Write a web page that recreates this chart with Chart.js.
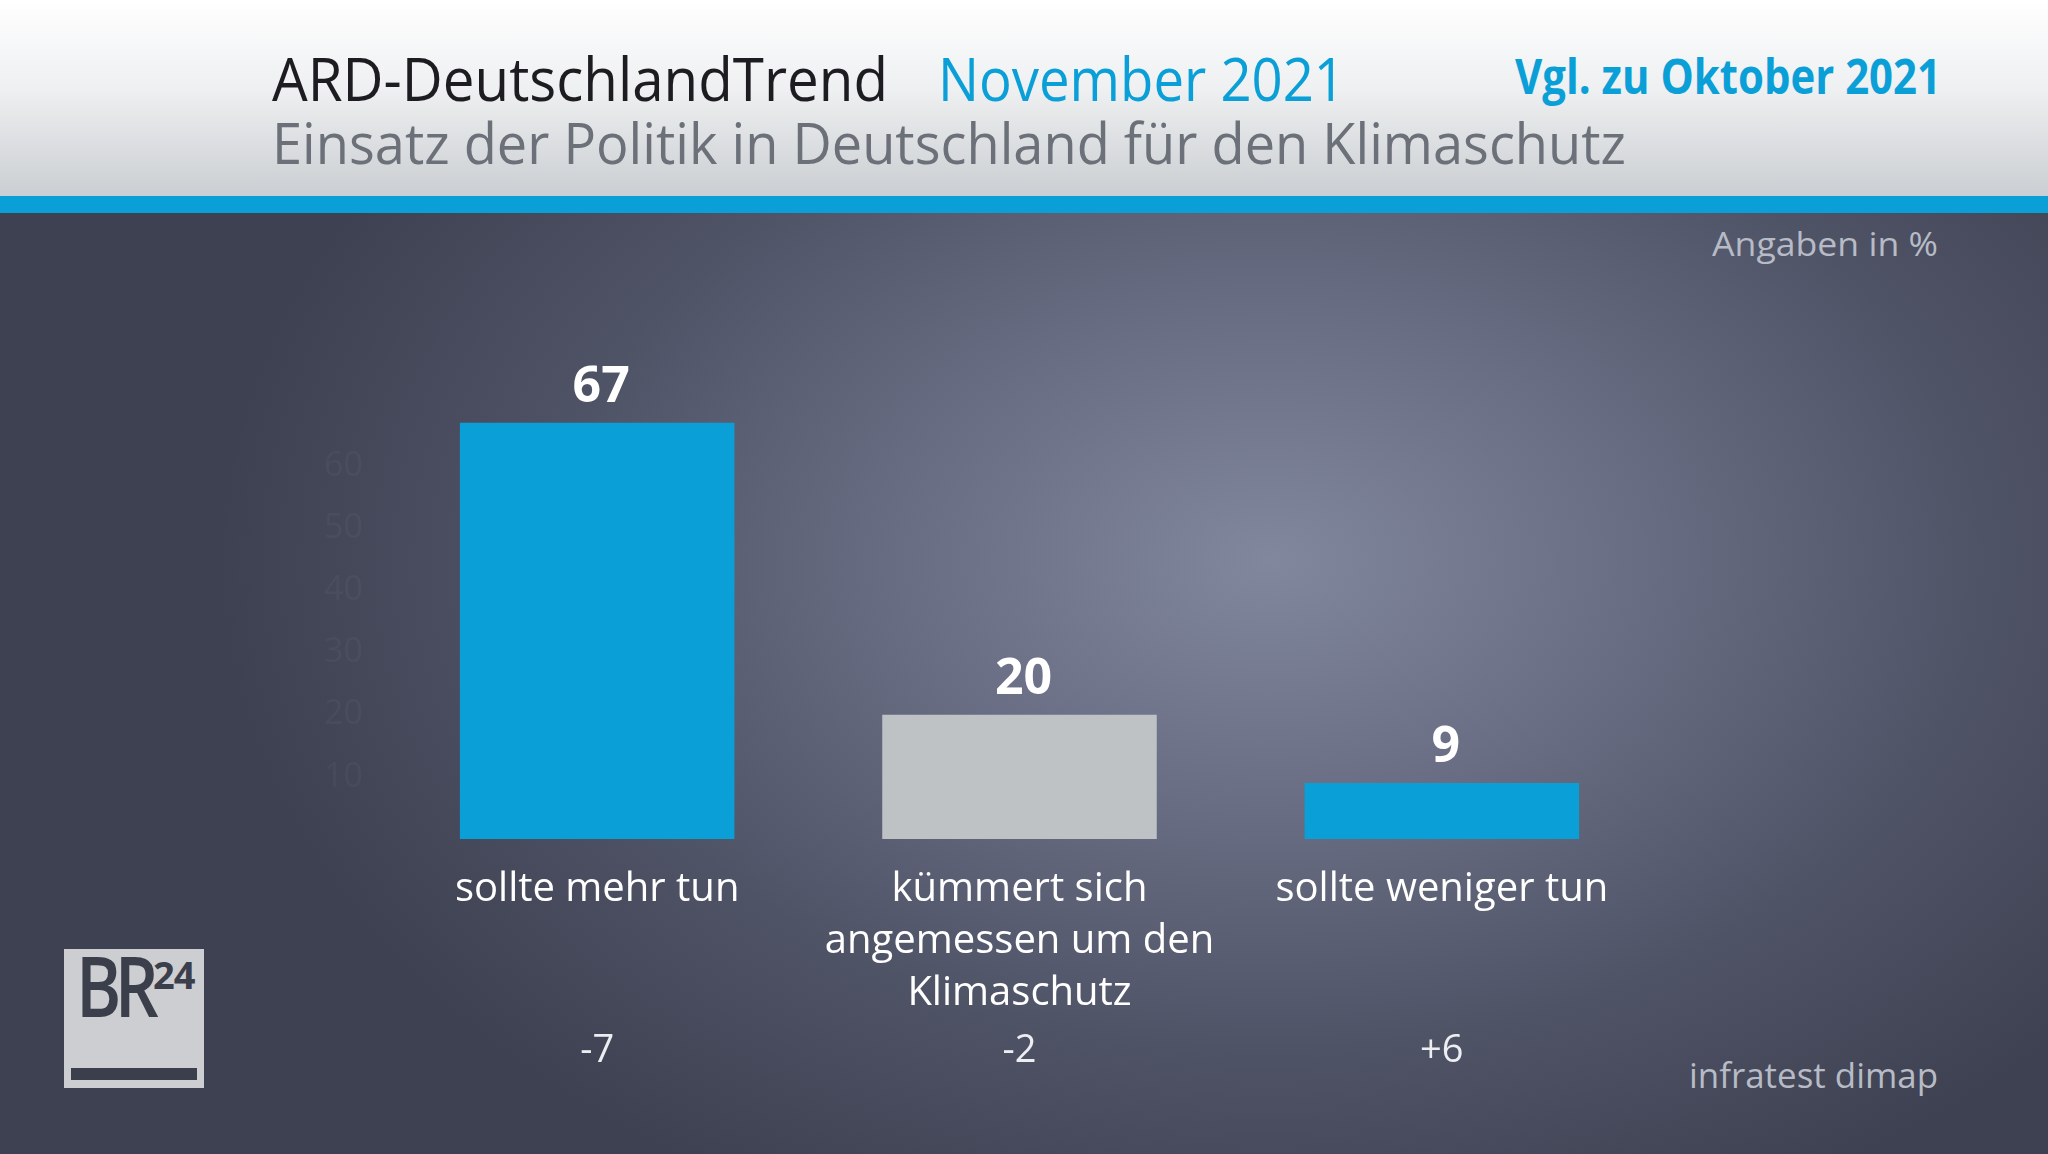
<!DOCTYPE html>
<html>
<head>
<meta charset="utf-8">
<script src="https://cdn.jsdelivr.net/npm/chart.js@4.4.1/dist/chart.umd.min.js"></script>
<style>
  html, body { margin: 0; padding: 0; }
  body {
    width: 2048px; height: 1154px; position: relative; overflow: hidden;
    font-family: "Open Sans", "Noto Sans", sans-serif;
    background: radial-gradient(ellipse 1050px 720px at 1270px 560px, #81879d 0%, #686d83 35%, #4f5366 68%, #3e4151 100%);
  }
  #head { position: absolute; left: 0; top: 0; width: 2048px; height: 196px;
    background: linear-gradient(#ffffff 0%, #eef0f1 45%, #cbced2 100%); }
  #band { position: absolute; left: 0; top: 196px; width: 2048px; height: 17px; background: #0b9fd8; }
  .t { position: absolute; white-space: nowrap; line-height: 1; transform-origin: 0 0; }
  #title { left: 272px; top: 48px; font-size: 60px; color: #1d1d21; }
  #month { left: 938px; top: 48px; font-size: 60px; color: #0b9fd8; }
  #cmp { left: 1515px; top: 52px; font-size: 48px; font-weight: 700; color: #0b9fd8; }
  #sub { left: 272px; top: 114px; font-size: 56px; color: #6c7079; }
  #unit { left: 1712px; top: 228px; font-size: 32px; color: #b7bbc6; }
  #src { left: 1689px; top: 1058px; font-size: 34px; color: #b7bbc6; }
  #chart { position: absolute; left: 0; top: 213px; }
  #logo { position: absolute; left: 64px; top: 949px; width: 140px; height: 139px; background: #cdced1; }
  #logo .br { position: absolute; left: 12px; top: -6px; font-size: 84px; font-weight: 600; color: #3b3e4b;
    letter-spacing: -8px; line-height: 1; transform: scaleX(0.82); transform-origin: 0 0; }
  #logo .n { position: absolute; left: 89px; top: 6px; font-size: 38px; font-weight: 700; color: #3b3e4b;
    line-height: 1; letter-spacing: -1px; }
  #logo .bar { position: absolute; left: 7px; top: 119px; width: 126px; height: 12px; background: #3b3e4b; }
</style>
</head>
<body>
<div id="head"></div>
<div id="band"></div>
<div class="t" id="title">ARD-DeutschlandTrend</div>
<div class="t" id="month">November 2021</div>
<div class="t" id="cmp">Vgl. zu Oktober 2021</div>
<div class="t" id="sub">Einsatz der Politik in Deutschland für den Klimaschutz</div>
<div class="t" id="unit">Angaben in %</div>
<div class="t" id="src">infratest dimap</div>
<div id="logo"><div class="br">BR</div><div class="n">24</div><div class="bar"></div></div>
<canvas id="chart" width="2048" height="941"></canvas>
<script>
"use strict";
const categories = [["sollte mehr tun"], ["kümmert sich", "angemessen um den", "Klimaschutz"], ["sollte weniger tun"]];
const values = [67, 20, 9];
const changes = ["-7", "-2", "+6"];
const barColors = ["#0b9fd8", "#bec2c5", "#0b9fd8"];
const yTicks = [10, 20, 30, 40, 50, 60];

// squeeze header texts to the widths of the condensed broadcast font
function fit(id, w) {
  const el = document.getElementById(id);
  el.style.transform = "scaleX(" + (w / el.getBoundingClientRect().width) + ")";
}
fit("title", 616); fit("month", 407); fit("cmp", 426); fit("sub", 1354);
fit("unit", 226); fit("src", 249);

// value above each bar + change vs. previous month below the labels
const labelsPlugin = {
  id: "barTexts",
  afterDatasetsDraw(chart) {
    const ctx = chart.ctx, meta = chart.getDatasetMeta(0), x = chart.scales.x;
    ctx.save();
    ctx.textAlign = "center"; ctx.textBaseline = "alphabetic";
    ctx.fillStyle = "#ffffff";
    ctx.font = "bold 50px 'Open Sans'";
    meta.data.forEach((bar, i) => ctx.fillText(values[i], bar.x + 4, bar.y - 21));
    ctx.font = "38px 'Open Sans'";
    ctx.fillStyle = "#eceef2";
    changes.forEach((c, i) => ctx.fillText(c, x.getPixelForValue(i), 849));
    ctx.restore();
  }
};

new Chart(document.getElementById("chart"), {
  type: "bar",
  data: {
    labels: categories,
    datasets: [{ data: values, backgroundColor: barColors, barPercentage: 0.65, categoryPercentage: 1 }]
  },
  options: {
    responsive: false, animation: false, devicePixelRatio: 1,
    layout: { padding: { left: 0, right: 395, top: 191, bottom: 0 } },
    plugins: { legend: { display: false }, tooltip: { enabled: false } },
    scales: {
      x: {
        grid: { display: false, drawTicks: false }, border: { display: false },
        ticks: { color: "#ffffff", font: { family: "Open Sans", size: 40, lineHeight: 1.3 }, padding: 25, maxRotation: 0, autoSkip: false },
        afterFit: (s) => { s.height = 315; }
      },
      y: {
        min: 0, max: 70,
        afterBuildTicks: (s) => { s.ticks = yTicks.map((v) => ({ value: v })); },
        grid: { display: false, drawTicks: false }, border: { display: false },
        ticks: { color: "rgba(255,255,255,0.035)", font: { family: "Open Sans", size: 34 }, padding: 23 },
        afterFit: (s) => { s.width = 386; }
      }
    }
  },
  plugins: [labelsPlugin]
});
</script>
</body>
</html>
